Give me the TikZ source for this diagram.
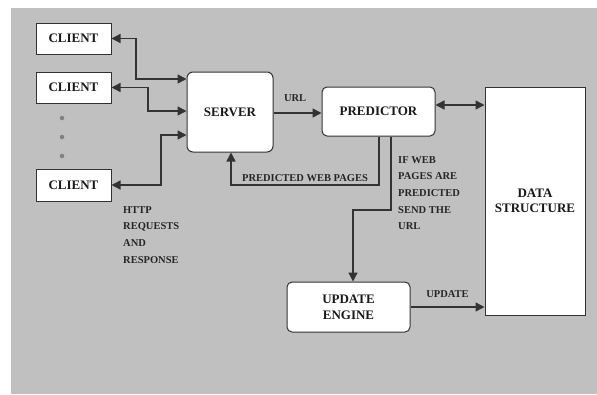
\documentclass[tikz,border=0pt]{standalone}
\usepackage{fontspec}
\setmainfont{Liberation Serif}
\usetikzlibrary{arrows.meta}
\definecolor{bg}{HTML}{C0C0C0}
\definecolor{ln}{HTML}{333333}
\begin{document}
\begin{tikzpicture}[x=1pt,y=-1pt,
  box/.style={draw=ln,line width=1pt,fill=white,inner sep=0pt,align=center,font=\fontsize{13}{15}\selectfont\bfseries,text=black!90},
  rbox/.style={box,rounded corners=6pt},
  con/.style={draw=ln,line width=1.4pt},
  arr/.style={con,-{Triangle[length=9pt,width=9pt]}},
  darr/.style={con,{Triangle[length=9pt,width=9pt]}-{Triangle[length=9pt,width=9pt]}},
  lbl/.style={inner sep=0pt,align=left,font=\fontsize{10.5}{16.7}\selectfont\bfseries,text=black!85},
  dot/.style={circle,fill=black!50,inner sep=0pt,minimum size=4.5pt}]
\useasboundingbox (0,0) rectangle (597,394);
\fill[bg] (11,8) rectangle (597,394);
\node[box,minimum width=75pt,minimum height=31pt] (c1) at (73.5,38.5) {CLIENT};
\node[box,minimum width=75pt,minimum height=31pt] (c2) at (73.5,87.5) {CLIENT};
\node[box,minimum width=75pt,minimum height=32pt] (c3) at (73.5,185) {CLIENT};
\node[dot] (d1) at (62,118) {};
\node[dot] (d2) at (62,137) {};
\node[dot] (d3) at (62,156) {};
\node[rbox,minimum width=86pt,minimum height=80pt] (s) at (230,112) {SERVER};
\node[rbox,minimum width=113pt,minimum height=49pt,rounded corners=5pt] (p) at (378.5,111.5) {PREDICTOR};
\node[box,minimum width=100pt,minimum height=228pt] (ds) at (535,201) {DATA\\STRUCTURE};
\node[rbox,minimum width=123pt,minimum height=50pt,rounded corners=5pt,font=\fontsize{13}{16}\selectfont\bfseries] (u) at (348.5,307) {UPDATE\\ENGINE};
% client connectors
\draw[darr] (c1.east) -- (136,38.5) |- (s.west |- 0,79);
\draw[darr] (c2.east) -- (148,87.5) |- (s.west |- 0,111);
\draw[darr] (c3.east) -- (161,185) |- (s.west |- 0,135);
% server to predictor
\draw[arr] (s.east |- 0,113) -- node[lbl,above=11pt,pos=0.45] (lurl) {URL} (p.west |- 0,113);
% predictor <-> data structure
\draw[darr] (p.east |- 0,105) -- (ds.west |- 0,105);
% predicted web pages
\draw[arr] (p.south -| 379,0) -- (379,185) -| node[lbl,pos=0.25,above=3pt] (lpw) {PREDICTED WEB PAGES} (s.south -| 231,0);
% send url
\draw[arr] (p.south -| 391,0) -- (391,210) -| (u.north -| 353,0);
% update
\draw[arr] (u.east |- 0,307) -- node[lbl,above=9pt] (lup) {UPDATE} (ds.west |- 0,307);
% labels
\node[lbl,anchor=north west] (lif) at (398,156) {IF WEB\\PAGES ARE\\PREDICTED\\SEND THE\\URL};
\node[lbl,anchor=north west] (lhttp) at (123,206) {HTTP\\REQUESTS\\AND\\RESPONSE};
\end{tikzpicture}
\end{document}
